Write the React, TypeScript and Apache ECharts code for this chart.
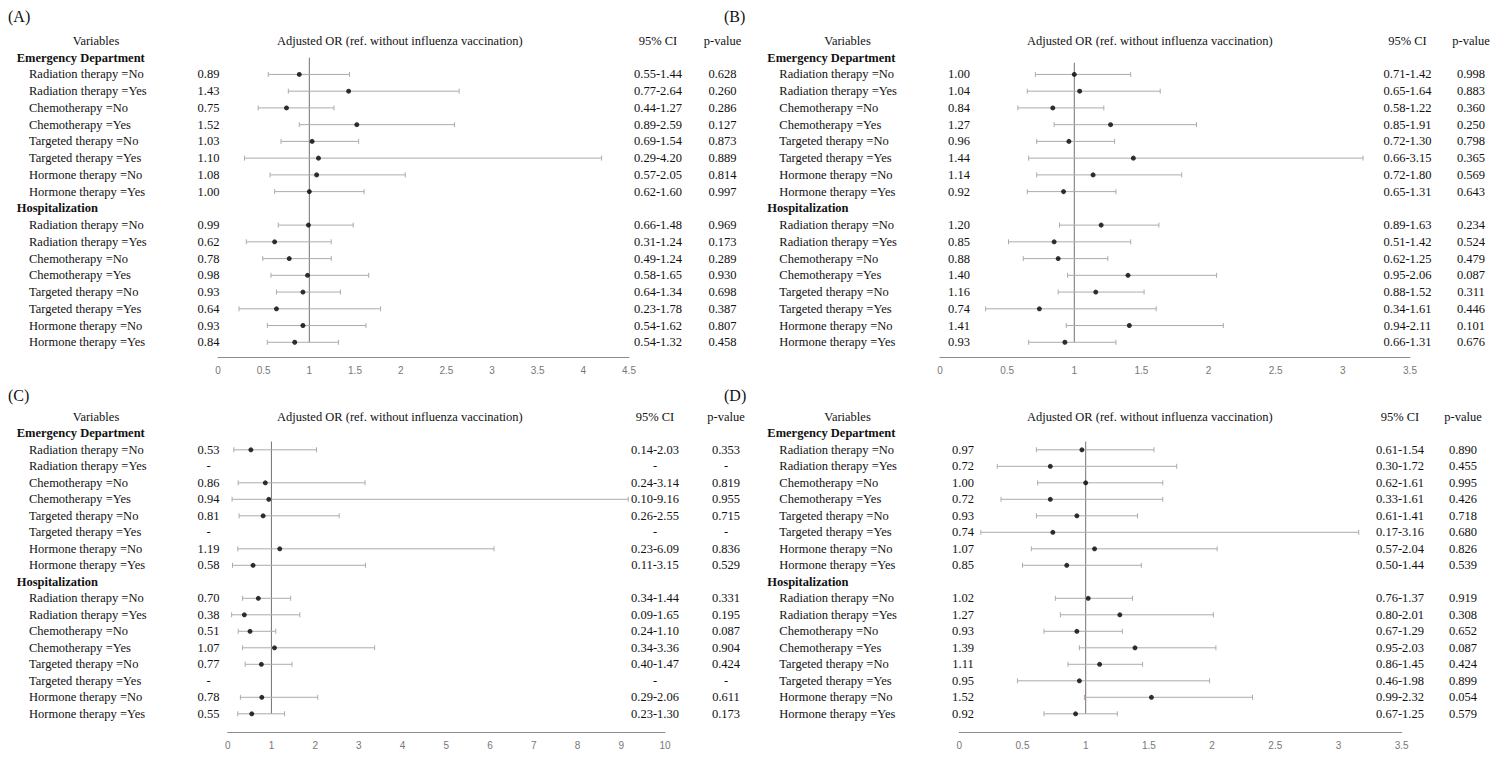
import React, { useEffect, useRef } from "react";
import * as echarts from "echarts";

// ---------- data ----------
const GROUPS = ["Emergency Department", "Hospitalization"];
const SUBGROUPS = [
  "Radiation therapy =No",
  "Radiation therapy =Yes",
  "Chemotherapy =No",
  "Chemotherapy =Yes",
  "Targeted therapy =No",
  "Targeted therapy =Yes",
  "Hormone therapy =No",
  "Hormone therapy =Yes",
];
const HEAD_VAR = "Variables";
const HEAD_OR = "Adjusted OR (ref. without influenza vaccination)";
const HEAD_CI = "95% CI";
const HEAD_P = "p-value";

// Panel A (ED rows then Hospitalization rows)
const A_OR = [0.89, 1.43, 0.75, 1.52, 1.03, 1.1, 1.08, 1.0, 0.99, 0.62, 0.78, 0.98, 0.93, 0.64, 0.93, 0.84];
const A_LO = [0.55, 0.77, 0.44, 0.89, 0.69, 0.29, 0.57, 0.62, 0.66, 0.31, 0.49, 0.58, 0.64, 0.23, 0.54, 0.54];
const A_HI = [1.44, 2.64, 1.27, 2.59, 1.54, 4.2, 2.05, 1.6, 1.48, 1.24, 1.24, 1.65, 1.34, 1.78, 1.62, 1.32];
const A_P = ["0.628", "0.260", "0.286", "0.127", "0.873", "0.889", "0.814", "0.997", "0.969", "0.173", "0.289", "0.930", "0.698", "0.387", "0.807", "0.458"];
const A_TICKS = { max: 4.5, step: 0.5 };

// Panel B
const B_OR = [1.0, 1.04, 0.84, 1.27, 0.96, 1.44, 1.14, 0.92, 1.2, 0.85, 0.88, 1.4, 1.16, 0.74, 1.41, 0.93];
const B_LO = [0.71, 0.65, 0.58, 0.85, 0.72, 0.66, 0.72, 0.65, 0.89, 0.51, 0.62, 0.95, 0.88, 0.34, 0.94, 0.66];
const B_HI = [1.42, 1.64, 1.22, 1.91, 1.3, 3.15, 1.8, 1.31, 1.63, 1.42, 1.25, 2.06, 1.52, 1.61, 2.11, 1.31];
const B_P = ["0.998", "0.883", "0.360", "0.250", "0.798", "0.365", "0.569", "0.643", "0.234", "0.524", "0.479", "0.087", "0.311", "0.446", "0.101", "0.676"];
const B_TICKS = { max: 3.5, step: 0.5 };

// Panel C (null = not estimable)
const C_OR = [0.53, null, 0.86, 0.94, 0.81, null, 1.19, 0.58, 0.7, 0.38, 0.51, 1.07, 0.77, null, 0.78, 0.55];
const C_LO = [0.14, null, 0.24, 0.1, 0.26, null, 0.23, 0.11, 0.34, 0.09, 0.24, 0.34, 0.4, null, 0.29, 0.23];
const C_HI = [2.03, null, 3.14, 9.16, 2.55, null, 6.09, 3.15, 1.44, 1.65, 1.1, 3.36, 1.47, null, 2.06, 1.3];
const C_P = ["0.353", "-", "0.819", "0.955", "0.715", "-", "0.836", "0.529", "0.331", "0.195", "0.087", "0.904", "0.424", "-", "0.611", "0.173"];
const C_TICKS = { max: 10, step: 1 };

// Panel D
const D_OR = [0.97, 0.72, 1.0, 0.72, 0.93, 0.74, 1.07, 0.85, 1.02, 1.27, 0.93, 1.39, 1.11, 0.95, 1.52, 0.92];
const D_LO = [0.61, 0.3, 0.62, 0.33, 0.61, 0.17, 0.57, 0.5, 0.76, 0.8, 0.67, 0.95, 0.86, 0.46, 0.99, 0.67];
const D_HI = [1.54, 1.72, 1.61, 1.61, 1.41, 3.16, 2.04, 1.44, 1.37, 2.01, 1.29, 2.03, 1.45, 1.98, 2.32, 1.25];
const D_P = ["0.890", "0.455", "0.995", "0.426", "0.718", "0.680", "0.826", "0.539", "0.919", "0.308", "0.652", "0.087", "0.424", "0.899", "0.054", "0.579"];
const D_TICKS = { max: 3.5, step: 0.5 };

// ---------- layout ----------
const SERIF = "'Liberation Serif', 'Times New Roman', serif";
const SANS = "'Liberation Sans', Arial, sans-serif";

const PANELS = [
  { tag: "(A)", or: A_OR, lo: A_LO, hi: A_HI, p: A_P, ticks: A_TICKS,
    L: { gx: 218, gw: 411, row0: 57.7, dy: 16.74, axisY: 357.5, lineStart: 0, tagX: 8, tagY: 18,
         varX: 96, grpX: 16.7, subX: 29, valX: 208.5, titleX: 277, ciX: 658, pX: 722.5 } },
  { tag: "(B)", or: B_OR, lo: B_LO, hi: B_HI, p: B_P, ticks: B_TICKS,
    L: { gx: 940, gw: 470, row0: 57.7, dy: 16.74, axisY: 357, lineStart: 0.3, tagX: 724, tagY: 18,
         varX: 847.5, grpX: 767.3, subX: 779.3, valX: 959, titleX: 1027, ciX: 1407.5, pX: 1471 } },
  { tag: "(C)", or: C_OR, lo: C_LO, hi: C_HI, p: C_P, ticks: C_TICKS,
    L: { gx: 227.7, gw: 437.3, row0: 433.3, dy: 16.5, axisY: 732.3, lineStart: 0.5, tagX: 8, tagY: 397,
         varX: 96, grpX: 16.7, subX: 29, valX: 208.5, titleX: 277, ciX: 655, pX: 726 } },
  { tag: "(D)", or: D_OR, lo: D_LO, hi: D_HI, p: D_P, ticks: D_TICKS,
    L: { gx: 959.3, gw: 442.4, row0: 433.3, dy: 16.5, axisY: 732.3, lineStart: 0.5, tagX: 724, tagY: 397,
         varX: 847.5, grpX: 767.3, subX: 779.3, valX: 963, titleX: 1027, ciX: 1400, pX: 1463 } },
];

const rowOf = (k: number) => (k < 8 ? k + 1 : k + 2);
const fmt = (v: number | null) => (v == null ? "-" : v.toFixed(2));

type TextItem = { row: number; text: string; x: number; align: string; bold?: boolean; size?: number };

function buildOption() {
  const grid: any[] = [];
  const xAxis: any[] = [];
  const yAxis: any[] = [];
  const series: any[] = [];
  const graphic: any[] = [];

  PANELS.forEach((P, pi) => {
    const L = P.L;
    const top = L.row0 - L.dy / 2;
    const height = 18 * L.dy;
    grid.push({ left: L.gx, top, width: L.gw, height });
    xAxis.push({
      type: "value",
      gridIndex: pi,
      position: "bottom",
      min: 0,
      max: P.ticks.max,
      interval: P.ticks.step,
      offset: L.axisY - (top + height),
      axisLine: { show: true, onZero: false, lineStyle: { color: "#8c8c8c", width: 1 } },
      axisTick: { show: false },
      splitLine: { show: false },
      axisLabel: { color: "#777", fontSize: 10, fontFamily: SANS, margin: 8 },
    });
    yAxis.push({
      type: "value",
      gridIndex: pi,
      min: -0.5,
      max: 17.5,
      inverse: true,
      show: false,
    });

    // texts
    const items: TextItem[] = [];
    items.push({ row: -1, text: HEAD_VAR, x: L.varX, align: "center" });
    items.push({ row: -1, text: HEAD_OR, x: L.titleX, align: "left" });
    items.push({ row: -1, text: HEAD_CI, x: L.ciX, align: "center" });
    items.push({ row: -1, text: HEAD_P, x: L.pX, align: "center" });
    GROUPS.forEach((g, gi) => items.push({ row: gi * 9, text: g, x: L.grpX, align: "left", bold: true }));
    for (let k = 0; k < 16; k++) {
      const r = rowOf(k);
      items.push({ row: r, text: SUBGROUPS[k % 8], x: L.subX, align: "left" });
      items.push({ row: r, text: fmt(P.or[k]), x: L.valX, align: "center" });
      const ci = P.lo[k] == null ? "-" : `${fmt(P.lo[k])}-${fmt(P.hi[k])}`;
      items.push({ row: r, text: ci, x: L.ciX, align: "center" });
      items.push({ row: r, text: P.p[k], x: L.pX, align: "center" });
    }
    series.push({
      type: "custom",
      xAxisIndex: pi,
      yAxisIndex: pi,
      silent: true,
      clip: false,
      data: items.map((t) => [0, t.row]),
      renderItem: (params: any, api: any) => {
        const t = items[params.dataIndex];
        const pt = api.coord([0, api.value(1)]);
        return {
          type: "text",
          x: t.x,
          y: pt[1],
          style: {
            text: t.text,
            fill: "#111",
            fontFamily: SERIF,
            fontSize: t.size || 12.5,
            fontWeight: t.bold ? "bold" : "normal",
            align: t.align,
            verticalAlign: "middle",
            textAlign: t.align,
            textVerticalAlign: "middle",
          },
        };
      },
    });

    // reference line at OR = 1
    series.push({
      type: "line",
      xAxisIndex: pi,
      yAxisIndex: pi,
      silent: true,
      symbol: "none",
      lineStyle: { color: "#7a7070", width: 1 },
      data: [
        [1, L.lineStart],
        [1, 17],
      ],
      z: 1,
    });

    // error bars
    const bars: number[][] = [];
    for (let k = 0; k < 16; k++) {
      if (P.lo[k] != null && P.hi[k] != null) bars.push([P.lo[k] as number, P.hi[k] as number, rowOf(k)]);
    }
    series.push({
      type: "custom",
      xAxisIndex: pi,
      yAxisIndex: pi,
      silent: true,
      clip: false,
      z: 2,
      data: bars,
      renderItem: (_params: any, api: any) => {
        const a = api.coord([api.value(0), api.value(2)]);
        const b = api.coord([api.value(1), api.value(2)]);
        const st = { stroke: "#b0aaaa", lineWidth: 1 };
        const cap = 2.5;
        return {
          type: "group",
          children: [
            { type: "line", shape: { x1: a[0], y1: a[1], x2: b[0], y2: b[1] }, style: st },
            { type: "line", shape: { x1: a[0], y1: a[1] - cap, x2: a[0], y2: a[1] + cap }, style: st },
            { type: "line", shape: { x1: b[0], y1: b[1] - cap, x2: b[0], y2: b[1] + cap }, style: st },
          ],
        };
      },
    });

    // point estimates
    const pts: number[][] = [];
    for (let k = 0; k < 16; k++) {
      if (P.or[k] != null) pts.push([P.or[k] as number, rowOf(k)]);
    }
    series.push({
      type: "scatter",
      xAxisIndex: pi,
      yAxisIndex: pi,
      silent: true,
      symbol: "circle",
      symbolSize: 5,
      itemStyle: { color: "#000" },
      data: pts,
      z: 3,
    });

    graphic.push({
      type: "text",
      left: L.tagX,
      top: L.tagY - 10,
      style: { text: P.tag, fill: "#111", font: `16px ${SERIF}` },
    });
  });

  return {
    animation: false,
    backgroundColor: "#fff",
    grid,
    xAxis,
    yAxis,
    series,
    graphic,
  };
}

export default function App() {
  const ref = useRef<HTMLDivElement>(null);
  useEffect(() => {
    if (!ref.current) return;
    const chart = echarts.init(ref.current, undefined, { renderer: "svg" });
    chart.setOption(buildOption() as any);
    return () => chart.dispose();
  }, []);
  return (
    <div
      ref={ref}
      style={{ position: "fixed", left: 0, top: 0, width: 1506, height: 764, background: "#fff" }}
    />
  );
}
